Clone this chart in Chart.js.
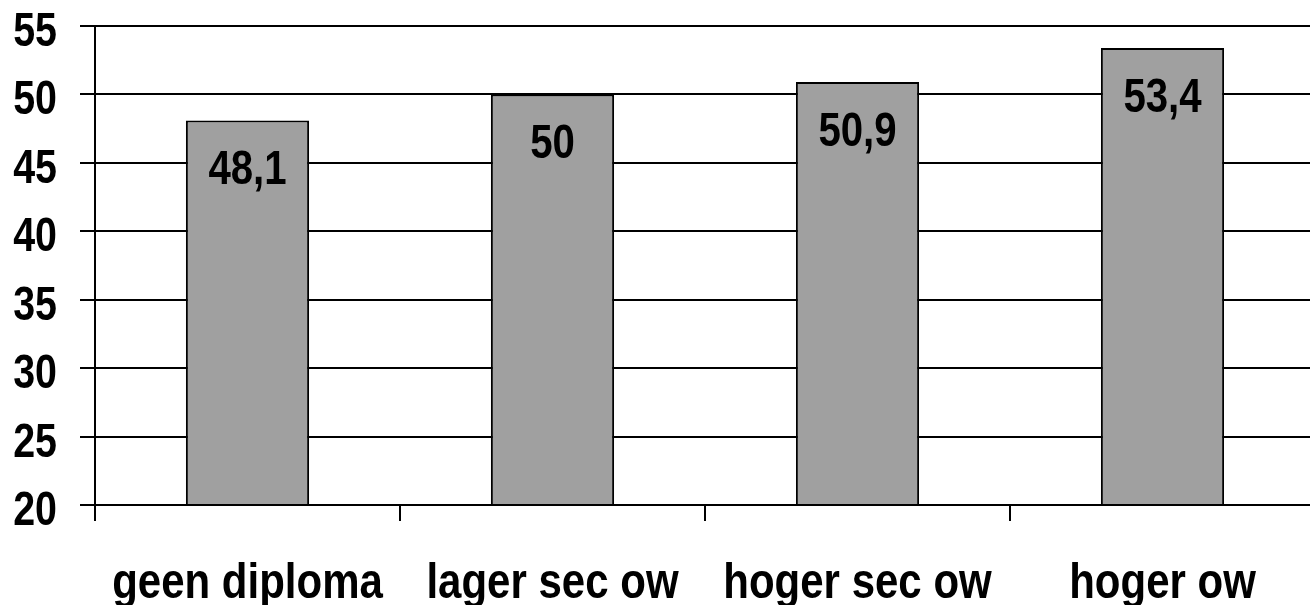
<!DOCTYPE html>
<html>
<head>
<meta charset="utf-8">
<script src="https://cdn.jsdelivr.net/npm/chart.js@4/dist/chart.umd.min.js"></script>
<style>
  html, body { margin: 0; padding: 0; background: #fff; overflow: hidden; }
  #wrap { position: relative; width: 1315px; height: 605px; }
</style>
</head>
<body>
<div id="wrap"><canvas id="chart"></canvas></div>
<script>
// Categories (education level) and average values
const categories = ['geen diploma', 'lager sec ow', 'hoger sec ow', 'hoger ow'];
const values = [48.1, 50, 50.9, 53.4];
const yTicks = [20, 25, 30, 35, 40, 45, 50, 55];

const FONT_FAMILY = '"Liberation Sans", Arial, sans-serif';

// Draw bold text squeezed horizontally, giving a narrow (condensed) face
function narrowText(ctx, txt, x, y, size, align, squeeze) {
  ctx.save();
  ctx.font = 'bold ' + size + 'px ' + FONT_FAMILY;
  ctx.fillStyle = '#000';
  ctx.textAlign = align;
  ctx.textBaseline = 'alphabetic';
  ctx.translate(x, y);
  ctx.scale(squeeze, 1);
  ctx.fillText(txt, 0, 0);
  ctx.restore();
}

// Axis labels and the value labels inside the bars
const textLayer = {
  id: 'textLayer',
  afterDraw(chart) {
    const ctx = chart.ctx;
    const xs = chart.scales.x;
    const ys = chart.scales.y;

    // y-axis tick labels, right-aligned left of the tick marks
    yTicks.forEach(v => {
      narrowText(ctx, String(v), 57, ys.getPixelForValue(v) + 20, 48, 'right', 0.82);
    });

    // category labels under the axis
    categories.forEach((c, i) => {
      narrowText(ctx, c, xs.getPixelForTick(i), 598, 50, 'center', 0.84);
    });

    // values inside bars, near the top
    const meta = chart.getDatasetMeta(0);
    meta.data.forEach((bar, i) => {
      const txt = String(values[i]).replace('.', ',');
      narrowText(ctx, txt, bar.x, bar.y + 64, 49, 'center', 0.82);
    });
  }
};

new Chart(document.getElementById('chart'), {
  type: 'bar',
  data: {
    labels: categories,
    datasets: [{
      data: values,
      base: yTicks[0],
      backgroundColor: '#a0a0a0',
      borderColor: '#000',
      borderWidth: 2,
      categoryPercentage: 1,
      barPercentage: 0.404
    }]
  },
  options: {
    responsive: true,
    maintainAspectRatio: false,
    animation: false,
    layout: { padding: { top: 26, left: 0, right: 0, bottom: 0 } },
    plugins: { legend: { display: false }, tooltip: { enabled: false } },
    scales: {
      x: {
        grid: {
          offset: true,
          drawOnChartArea: false,
          drawTicks: true,
          tickLength: 16,
          color: '#000',
          lineWidth: 2
        },
        border: { color: '#000', width: 2 },
        ticks: { display: false, autoSkip: false, maxRotation: 0 },
        afterFit(scale) { scale.height = 100; }
      },
      y: {
        min: yTicks[0],
        max: yTicks[yTicks.length - 1],
        afterBuildTicks(scale) { scale.ticks = yTicks.map(v => ({ value: v })); },
        grid: { color: '#000', lineWidth: 2, tickLength: 15 },
        border: { color: '#000', width: 2 },
        ticks: { display: false },
        afterFit(scale) { scale.width = 95; }
      }
    }
  },
  plugins: [textLayer]
});
</script>
</body>
</html>
